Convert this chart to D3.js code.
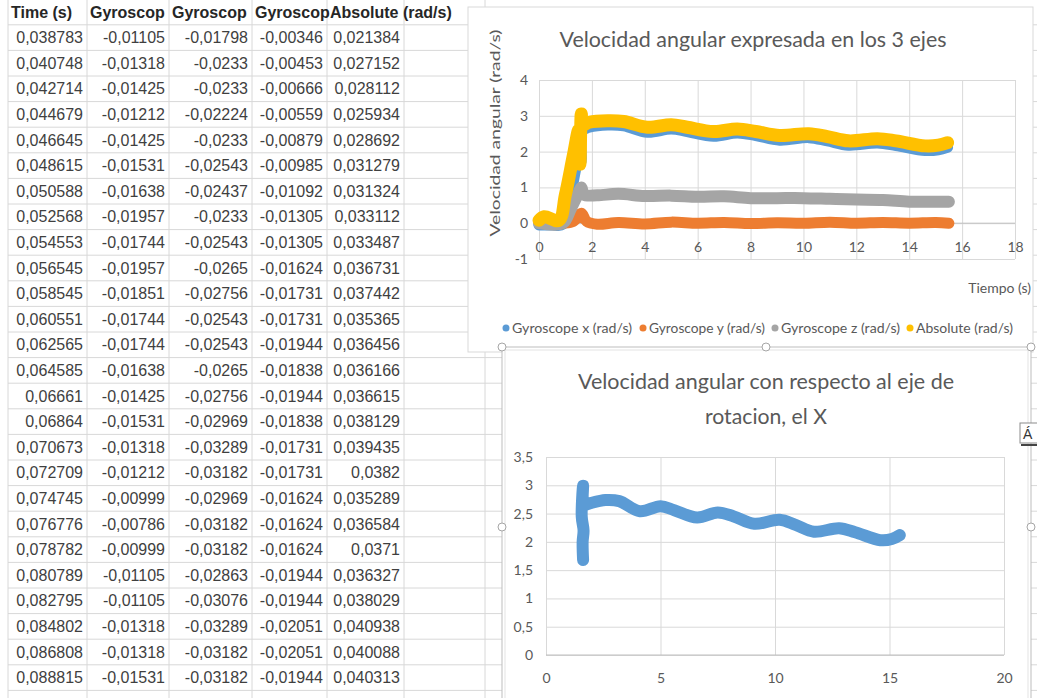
<!DOCTYPE html>
<html>
<head>
<meta charset="utf-8">
<title>Velocidad angular</title>
<style>
    body { margin: 0; background: #fff; }
    svg { display: block; }
    .cell { font-family: "Liberation Sans", Arial, sans-serif; font-size: 16px; fill: #3f3f3f; }
    .head { font-weight: bold; fill: #262626; }
    .xl { font-family: Lato, "Open Sans", sans-serif; fill: #595959; }
    .grid line { stroke: #d9d9d9; stroke-width: 1; }
</style>
</head>
<body>
<script src="https://d3js.org/d3.v7.min.js"></script>
<script>
    // spreadsheet columns (header text as it is visible in the cells)
    var headers = ['Time (s)', 'Gyroscop', 'Gyroscop', 'Gyroscop', 'Absolute (rad/s)'];
    var timeCol = [0.038783, 0.040748, 0.042714, 0.044679, 0.046645, 0.048615, 0.050588, 0.052568, 0.054553, 0.056545,
        0.058545, 0.060551, 0.062565, 0.064585, 0.06661, 0.06864, 0.070673, 0.072709, 0.074745, 0.076776,
        0.078782, 0.080789, 0.082795, 0.084802, 0.086808, 0.088815];
    var gyroXCol = [-0.01105, -0.01318, -0.01425, -0.01212, -0.01425, -0.01531, -0.01638, -0.01957, -0.01744, -0.01957,
        -0.01851, -0.01744, -0.01744, -0.01638, -0.01425, -0.01531, -0.01318, -0.01212, -0.00999, -0.00786,
        -0.00999, -0.01105, -0.01105, -0.01318, -0.01318, -0.01531];
    var gyroYCol = [-0.01798, -0.0233, -0.0233, -0.02224, -0.0233, -0.02543, -0.02437, -0.0233, -0.02543, -0.0265,
        -0.02756, -0.02543, -0.02543, -0.0265, -0.02756, -0.02969, -0.03289, -0.03182, -0.02969, -0.03182,
        -0.03182, -0.02863, -0.03076, -0.03289, -0.03182, -0.03182];
    var gyroZCol = [-0.00346, -0.00453, -0.00666, -0.00559, -0.00879, -0.00985, -0.01092, -0.01305, -0.01305, -0.01624,
        -0.01731, -0.01731, -0.01944, -0.01838, -0.01944, -0.01838, -0.01731, -0.01731, -0.01624, -0.01624,
        -0.01624, -0.01944, -0.01944, -0.02051, -0.02051, -0.01944];
    var absCol = [0.021384, 0.027152, 0.028112, 0.025934, 0.028692, 0.031279, 0.031324, 0.033112, 0.033487, 0.036731,
        0.037442, 0.035365, 0.036456, 0.036166, 0.036615, 0.038129, 0.039435, 0.0382, 0.035289, 0.036584,
        0.0371, 0.036327, 0.038029, 0.040938, 0.040088, 0.040313];

    // chart 1 series, [time, rad/s]
    var gyroX = [[0, -0.05], [0.5, -0.05], [0.9, -0.03], [1.2, 0.8], [1.5, 1.75], [1.58, 1.7], [1.6, 2.6], [1.7, 2.62],
        [1.9, 2.68], [2.6, 2.74], [3.2, 2.72], [4.1, 2.54], [5.0, 2.63], [5.6, 2.56], [6.6, 2.43], [7.5, 2.52],
        [8.2, 2.45], [9.1, 2.32], [10.2, 2.39], [10.9, 2.3], [11.7, 2.18], [12.8, 2.24], [13.5, 2.17], [14.6, 2.03],
        [15.1, 2.05], [15.45, 2.12]];
    var gyroY = [[0, 0], [0.9, 0], [1.3, 0.05], [1.6, 0.28], [1.8, 0.05], [2.2, -0.03], [3, 0.02], [4, -0.02], [5, 0.03],
        [6, 0], [7, 0.02], [8, -0.01], [9, 0.01], [10, 0], [11, 0.03], [12, 0], [13, 0.02], [14, 0], [15, 0.02], [15.5, 0]];
    var gyroZ = [[0, 0], [0.9, 0], [1.2, 0.4], [1.5, 0.85], [1.6, 1.0], [1.7, 0.8], [2.2, 0.78], [3, 0.82], [4, 0.76],
        [5, 0.77], [6, 0.74], [7, 0.75], [8, 0.7], [9, 0.7], [10, 0.7], [11, 0.68], [12, 0.66], [13, 0.65], [14, 0.6],
        [15, 0.6], [15.5, 0.6]];
    var absolute = [[0, 0.08], [0.2, 0.18], [0.75, 0.08], [1.0, 0.8], [1.3, 1.9], [1.5, 2.6], [1.55, 1.65], [1.6, 3.05],
        [1.65, 2.75], [1.9, 2.82], [2.6, 2.86], [3.2, 2.84], [4.1, 2.68], [5.0, 2.75], [5.6, 2.68], [6.6, 2.56],
        [7.5, 2.63], [8.2, 2.56], [9.1, 2.45], [10.2, 2.5], [10.9, 2.42], [11.7, 2.3], [12.8, 2.36], [13.5, 2.3],
        [14.6, 2.16], [15.1, 2.18], [15.45, 2.25]];

    // chart 2 series: rotation about x only
    var gyroXRot = [[1.62, 1.68], [1.6, 2.0], [1.64, 2.2], [1.56, 2.45], [1.62, 2.99], [1.65, 2.65], [1.9, 2.68],
        [2.6, 2.74], [3.2, 2.72], [4.1, 2.54], [5.0, 2.63], [5.6, 2.56], [6.6, 2.43], [7.5, 2.52], [8.2, 2.45],
        [9.1, 2.32], [10.2, 2.39], [10.9, 2.3], [11.7, 2.18], [12.8, 2.24], [13.5, 2.17], [14.6, 2.03],
        [15.1, 2.05], [15.45, 2.12]];

    var legendNames = ['Gyroscope x (rad/s)', 'Gyroscope y (rad/s)', 'Gyroscope z (rad/s)', 'Absolute (rad/s)'];
    var colors = ['#5B9BD5', '#ED7D31', '#A5A5A5', '#FFC000'];
    var ticks1X = [0, 2, 4, 6, 8, 10, 12, 14, 16, 18];
    var ticks1Y = [-1, 0, 1, 2, 3, 4];
    var ticks2X = [0, 5, 10, 15, 20];
    var ticks2Y = [0, 0.5, 1, 1.5, 2, 2.5, 3, 3.5];

    var w = 1037, h = 698;
    var svg = d3.select('body').append('svg').attr('width', w).attr('height', h);
    var comma = function (v) { return String(v).replace('.', ','); };

    // ---------- spreadsheet ----------
    var colEdges = [8, 87, 169, 252, 327, 404, 485];
    var rowY = d3.scaleLinear().domain([0, 1]).range([12, 37.6]); // row centre, header = 0
    var sheet = svg.append('g');

    sheet.append('g').selectAll('line').data(d3.range(0, 29)).join('line')
        .attr('x1', 8).attr('x2', w)
        .attr('y1', function (i) { return rowY(i) - 12.8; })
        .attr('y2', function (i) { return rowY(i) - 12.8; })
        .attr('stroke', '#d8d8d8');
    sheet.append('g').selectAll('line').data(colEdges).join('line')
        .attr('x1', function (d) { return d; }).attr('x2', function (d) { return d; })
        .attr('y1', 0).attr('y2', h)
        .attr('stroke', '#d8d8d8');

    sheet.append('g').selectAll('text').data(headers).join('text')
        .attr('class', 'cell head')
        .attr('x', function (d, c) { return colEdges[c] + 3; })
        .attr('y', rowY(0) + 5.5)
        .text(function (d) { return d; });

    var cols = [timeCol, gyroXCol, gyroYCol, gyroZCol, absCol];
    cols.forEach(function (col, c) {
        sheet.append('g').selectAll('text').data(col).join('text')
            .attr('class', 'cell')
            .attr('text-anchor', 'end')
            .attr('x', colEdges[c + 1] - 4)
            .attr('y', function (d, i) { return rowY(i + 1) + 5.5; })
            .text(comma);
    });

    var line = function (x, y) {
        return d3.line().x(function (d) { return x(d[0]); }).y(function (d) { return y(d[1]); })
            .curve(d3.curveCatmullRom.alpha(0.5));
    };

    function styleAxis(g, size) {
        g.select('.domain').remove();
        g.selectAll('text').attr('class', 'xl').attr('font-size', size).attr('fill', '#595959')
            .attr('font-family', 'Lato, "Open Sans", sans-serif');
    }

    // ---------- chart 1 ----------
    var c1 = svg.append('g');
    c1.append('rect').attr('x', 468).attr('y', 7).attr('width', 565).attr('height', 345)
        .attr('fill', '#fff').attr('stroke', '#d9d9d9');

    var x1 = d3.scaleLinear().domain([0, 18]).range([539, 1015]);
    var y1 = d3.scaleLinear().domain([-1, 4]).range([259, 80]);

    c1.append('g').attr('class', 'grid').attr('transform', 'translate(539,0)')
        .call(d3.axisLeft(y1).tickValues(ticks1Y).tickSize(-(1015 - 539)).tickFormat(''))
        .call(function (g) { g.select('.domain').remove(); });
    c1.append('g').attr('class', 'grid').attr('transform', 'translate(0,259)')
        .call(d3.axisBottom(x1).tickValues(ticks1X).tickSize(-(259 - 80)).tickFormat(''))
        .call(function (g) { g.select('.domain').remove(); });
    c1.append('line').attr('x1', 539).attr('x2', 1015).attr('y1', y1(0)).attr('y2', y1(0))
        .attr('stroke', '#bfbfbf');

    c1.append('g').attr('transform', 'translate(539,0)')
        .call(d3.axisLeft(y1).tickValues(ticks1Y).tickSize(0).tickPadding(11).tickFormat(comma))
        .call(styleAxis, 14);
    c1.append('g').attr('transform', 'translate(0,' + y1(0) + ')')
        .call(d3.axisBottom(x1).tickValues(ticks1X).tickSize(0).tickPadding(19).tickFormat(comma))
        .call(styleAxis, 14);

    var bandW = [11, 11, 12, 13];
    [gyroX, gyroY, gyroZ, absolute].forEach(function (s, i) {
        c1.append('path').datum(s)
            .attr('d', line(x1, y1))
            .attr('fill', 'none')
            .attr('stroke', colors[i])
            .attr('stroke-width', bandW[i])
            .attr('stroke-linecap', 'round')
            .attr('stroke-linejoin', 'round');
    });

    c1.append('text').attr('class', 'xl').attr('x', 753).attr('y', 47)
        .attr('text-anchor', 'middle').attr('font-size', 21)
        .attr('textLength', 387).attr('lengthAdjust', 'spacingAndGlyphs')
        .text('Velocidad angular expresada en los 3 ejes');
    c1.append('text').attr('class', 'xl').attr('transform', 'translate(500,133) rotate(-90)')
        .attr('text-anchor', 'middle').attr('font-size', 14)
        .attr('textLength', 207).attr('lengthAdjust', 'spacingAndGlyphs')
        .text('Velocidad angular (rad/s)');
    c1.append('text').attr('class', 'xl').attr('x', 1031).attr('y', 293)
        .attr('text-anchor', 'end').attr('font-size', 14)
        .text('Tiempo (s)');

    // legend
    var legX = [506, 643, 775, 910], legW = [120, 116, 119, 97];
    var leg = c1.append('g').selectAll('g').data(legendNames).join('g')
        .attr('transform', function (d, i) { return 'translate(' + legX[i] + ',328)'; });
    leg.append('circle').attr('r', 3.5).attr('fill', function (d, i) { return colors[i]; });
    leg.append('text').attr('class', 'xl').attr('x', 6).attr('y', 4.5).attr('font-size', 13)
        .attr('textLength', function (d, i) { return legW[i]; }).attr('lengthAdjust', 'spacingAndGlyphs')
        .text(function (d) { return d; });

    // ---------- chart 2 ----------
    var c2 = svg.append('g');
    c2.append('rect').attr('x', 502).attr('y', 347).attr('width', 529).attr('height', 400)
        .attr('fill', '#fff').attr('stroke', '#bdbdbd');
    c2.append('rect').attr('x', 505).attr('y', 350).attr('width', 523).attr('height', 400)
        .attr('fill', 'none').attr('stroke', '#e3e3e3');

    var x2 = d3.scaleLinear().domain([0, 20]).range([546, 1004]);
    var y2 = d3.scaleLinear().domain([0, 3.5]).range([655, 457]);

    c2.append('g').attr('class', 'grid').attr('transform', 'translate(546,0)')
        .call(d3.axisLeft(y2).tickValues(ticks2Y).tickSize(-(1004 - 546)).tickFormat(''))
        .call(function (g) { g.select('.domain').remove(); });
    c2.append('g').attr('class', 'grid').attr('transform', 'translate(0,655)')
        .call(d3.axisBottom(x2).tickValues(ticks2X).tickSize(-(655 - 457)).tickFormat(''))
        .call(function (g) { g.select('.domain').remove(); });
    c2.append('line').attr('x1', 546).attr('x2', 1004).attr('y1', 655).attr('y2', 655)
        .attr('stroke', '#bfbfbf');

    c2.append('g').attr('transform', 'translate(546,0)')
        .call(d3.axisLeft(y2).tickValues(ticks2Y).tickSize(0).tickPadding(13).tickFormat(comma))
        .call(styleAxis, 14);
    c2.append('g').attr('transform', 'translate(0,655)')
        .call(d3.axisBottom(x2).tickValues(ticks2X).tickSize(0).tickPadding(18).tickFormat(comma))
        .call(styleAxis, 14);

    c2.append('path').datum(gyroXRot)
        .attr('d', line(x2, y2))
        .attr('fill', 'none')
        .attr('stroke', colors[0])
        .attr('stroke-width', 12)
        .attr('stroke-linecap', 'round')
        .attr('stroke-linejoin', 'round');

    c2.append('text').attr('class', 'xl').attr('x', 766).attr('y', 389)
        .attr('text-anchor', 'middle').attr('font-size', 21)
        .attr('textLength', 376).attr('lengthAdjust', 'spacingAndGlyphs')
        .text('Velocidad angular con respecto al eje de');
    c2.append('text').attr('class', 'xl').attr('x', 766).attr('y', 424)
        .attr('text-anchor', 'middle').attr('font-size', 21)
        .attr('textLength', 122).attr('lengthAdjust', 'spacingAndGlyphs')
        .text('rotacion, el X');

    // selection handles
    c2.append('g').selectAll('circle')
        .data([[502, 347], [766, 347], [1031, 347], [502, 527], [1031, 527]]).join('circle')
        .attr('cx', function (d) { return d[0]; }).attr('cy', function (d) { return d[1]; })
        .attr('r', 4).attr('fill', '#fff').attr('stroke', '#a6a6a6');

    // little tooltip box at the right edge
    c2.append('rect').attr('x', 1020).attr('y', 423).attr('width', 22).attr('height', 20)
        .attr('fill', '#fff').attr('stroke', '#8c8c8c');
    c2.append('line').attr('x1', 1021).attr('x2', 1037).attr('y1', 445).attr('y2', 445)
        .attr('stroke', '#444').attr('stroke-width', 2);
    c2.append('text').attr('x', 1023).attr('y', 439).attr('font-size', 14)
        .attr('font-family', 'Liberation Sans, sans-serif').attr('fill', '#333').text('Á');
</script>
</body>
</html>
